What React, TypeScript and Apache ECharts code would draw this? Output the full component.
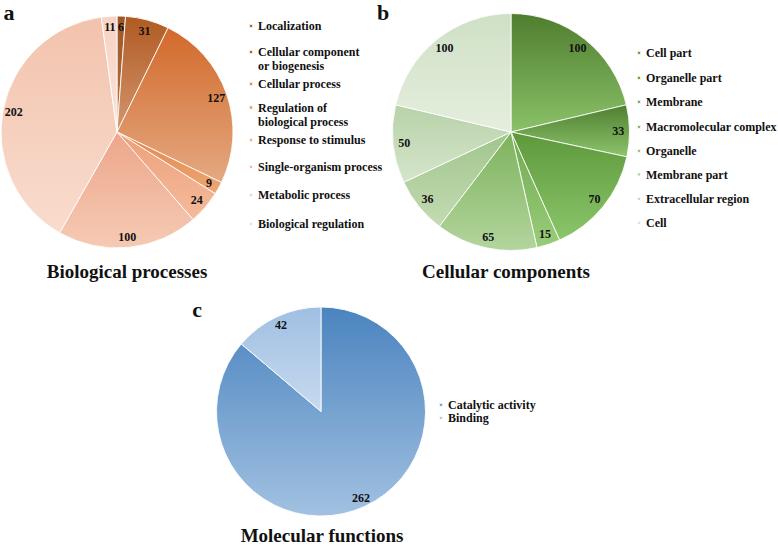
import React, { useEffect, useRef } from "react";
import * as echarts from "echarts";

// ---- Data ----
const bpNames = [
  "Localization",
  "Cellular component or biogenesis",
  "Cellular process",
  "Regulation of biological process",
  "Response to stimulus",
  "Single-organism process",
  "Metabolic process",
  "Biological regulation",
];
const bpValues = [6, 31, 127, 9, 24, 100, 202, 11];

const ccNames = [
  "Cell part",
  "Organelle part",
  "Membrane",
  "Macromolecular complex",
  "Organelle",
  "Membrane part",
  "Extracellular region",
  "Cell",
];
const ccValues = [100, 33, 70, 15, 65, 36, 50, 100];

const mfNames = ["Catalytic activity", "Binding"];
const mfValues = [262, 42];

// ---- Styles ----
const bpColors: [string, string][] = [
  ["#9e5628", "#b8743f"],
  ["#b05a22", "#d39670"],
  ["#d2692a", "#e4a981"],
  ["#e3874a", "#eca676"],
  ["#eca07a", "#f4bb9c"],
  ["#eca68a", "#f6cab4"],
  ["#f2c3ad", "#f9dccd"],
  ["#f6d3c5", "#fbe2d8"],
];
const ccColors: [string, string][] = [
  ["#4f7d2f", "#8ac268"],
  ["#4f7f30", "#8dc46c"],
  ["#5d983b", "#8bc66b"],
  ["#71aa4f", "#99cc7a"],
  ["#7db25b", "#b3d59e"],
  ["#a0c58c", "#c3dbb3"],
  ["#b8d2a9", "#d5e5cb"],
  ["#cfe0c5", "#e5eede"],
];
const mfColors: [string, string][] = [
  ["#4a84bf", "#a2c1e1"],
  ["#a0bfe2", "#c7daef"],
];

const SERIF = "Liberation Serif";
const TXT = "#111";

const grad = (c: [string, string]) => ({
  type: "linear",
  x: 0,
  y: 0,
  x2: 0,
  y2: 1,
  colorStops: [
    { offset: 0, color: c[0] },
    { offset: 1, color: c[1] },
  ],
});

function buildPie(
  id: string,
  names: string[],
  values: number[],
  colors: [string, string][],
  center: [number, number],
  r: number
) {
  const main = {
    id: id + "-main",
    type: "pie",
    center,
    radius: [0, r],
    startAngle: 90,
    clockwise: true,
    label: { show: false },
    labelLine: { show: false },
    emphasis: { disabled: true },
    data: names.map((n, i) => ({
      name: n,
      value: values[i],
      itemStyle: { color: grad(colors[i]), borderColor: "rgba(255,255,255,0.85)", borderWidth: 1 },
    })),
  };
  const overlay = {
    id: id + "-labels",
    type: "pie",
    center,
    radius: [r * 0.76, r],
    startAngle: 90,
    clockwise: true,
    silent: true,
    emphasis: { disabled: true },
    itemStyle: { color: "rgba(0,0,0,0)", borderWidth: 0 },
    label: {
      show: true,
      position: "inside",
      formatter: "{c}",
      fontFamily: SERIF,
      fontWeight: "bold",
      fontSize: 12,
      color: TXT,
    },
    labelLine: { show: false },
    data: names.map((n, i) => ({ name: n, value: values[i] })),
  };
  return [main, overlay];
}

const twoLine: Record<string, string> = {
  "Cellular component or biogenesis": "Cellular component\nor biogenesis",
  "Regulation of biological process": "Regulation of\nbiological process",
};

function buildLegends(names: string[], left: number, centersY: number[]) {
  return names.map((n, i) => {
    const multi = !!twoLine[n];
    return {
      data: [n],
      left,
      top: multi ? centersY[i] - 14 : centersY[i] - 7,
      orient: "vertical",
      padding: 0,
      itemGap: 0,
      itemWidth: 4,
      itemHeight: multi ? 18 : 4,
      icon: multi ? "path://M0,0h4v4h-4z M0,18L0.001,18" : "rect",
      selectedMode: false,
      formatter: (name: string) => twoLine[name] || name,
      textStyle: {
        fontFamily: SERIF,
        fontWeight: "bold",
        fontSize: 12,
        lineHeight: 14,
        color: TXT,
      },
    };
  });
}

function textEl(text: string, x: number, y: number, size: number) {
  return {
    type: "text",
    x,
    y,
    silent: true,
    style: {
      text,
      fill: TXT,
      fontFamily: SERIF,
      fontWeight: "bold",
      fontSize: size,
      textAlign: "center",
      textVerticalAlign: "middle",
      align: "center",
      verticalAlign: "middle",
    },
  };
}

export default function App() {
  const ref = useRef<HTMLDivElement>(null);
  useEffect(() => {
    if (!ref.current) return;
    const chart = echarts.init(ref.current, undefined, { renderer: "svg" });
    const option: any = {
      animation: false,
      backgroundColor: "#ffffff",
      textStyle: { fontFamily: SERIF },
      legend: [
        ...buildLegends(bpNames, 248, [26, 59, 84, 114.5, 140, 167, 195, 224]),
        ...buildLegends(ccNames, 636, [53, 78, 102, 127, 151, 174.5, 199, 223]),
        ...buildLegends(mfNames, 438, [405, 418]),
      ],
      series: [
        ...buildPie("bp", bpNames, bpValues, bpColors, [117, 132], 116),
        ...buildPie("cc", ccNames, ccValues, ccColors, [511, 132], 118.5),
        ...buildPie("mf", mfNames, mfValues, mfColors, [321, 411.5], 104.5),
      ],
      graphic: [
        textEl("a", 9, 12, 22),
        textEl("b", 383, 12, 22),
        textEl("c", 197, 309, 22),
        textEl("Biological processes", 127, 271.5, 19),
        textEl("Cellular components", 506, 271.5, 19),
        textEl("Molecular functions", 322, 535, 19),
      ],
    };
    chart.setOption(option);
    return () => chart.dispose();
  }, []);
  return (
    <div
      ref={ref}
      style={{ position: "absolute", left: 0, top: 0, width: 778, height: 546, background: "#fff" }}
    />
  );
}
